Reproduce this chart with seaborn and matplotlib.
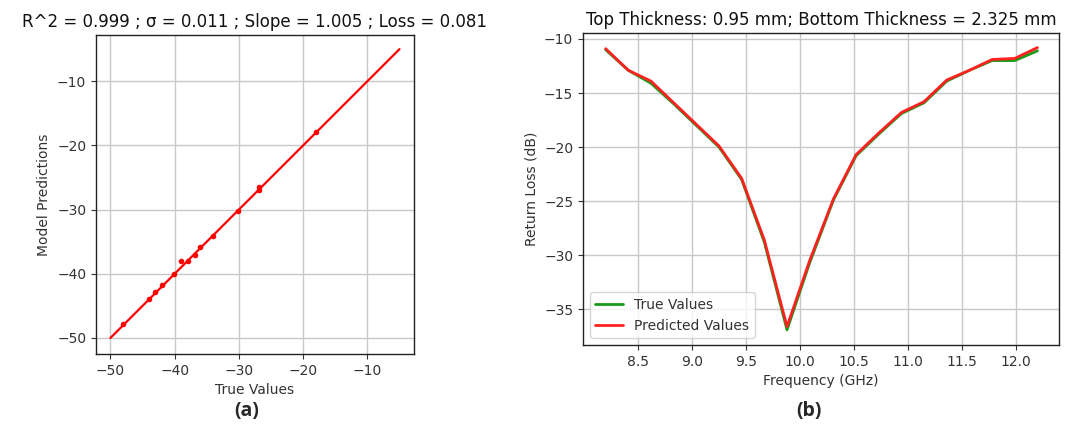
import matplotlib
matplotlib.use("Agg")
import matplotlib.pyplot as plt
import seaborn as sns
import pandas as pd

# ---- data: panel (a) ----
true_vals = [-48.0, -44.0, -43.0, -42.0, -40.1, -39.0, -38.0, -36.9, -36.0, -34.0, -30.1, -26.9, -26.9, -18.0]
pred_vals = [-47.9, -43.9, -42.8, -41.8, -40.0, -38.0, -38.0, -37.0, -35.9, -34.1, -30.2, -27.0, -26.5, -17.9]
ideal_x = [-50, -5]
ideal_y = [-50, -5]

# ---- data: panel (b) ----
freq = [8.2, 8.41, 8.62, 8.83, 9.04, 9.25, 9.46, 9.67, 9.88, 10.09,
        10.31, 10.52, 10.73, 10.94, 11.15, 11.36, 11.57, 11.78, 11.99, 12.2]
rl_true = [-11.0, -12.9, -14.1, -16.0, -18.0, -20.0, -23.0, -28.8, -36.9, -30.7,
           -24.9, -20.8, -18.8, -16.9, -15.9, -13.9, -12.9, -12.0, -12.0, -11.1]
rl_pred = [-10.9, -12.9, -13.9, -15.9, -17.9, -19.9, -22.9, -28.6, -36.6, -30.5,
           -24.8, -20.7, -18.7, -16.8, -15.8, -13.8, -12.9, -11.9, -11.8, -10.8]

title_a = "R^2 = 0.999 ; σ = 0.011 ; Slope = 1.005 ; Loss = 0.081"
title_b = "Top Thickness: 0.95 mm; Bottom Thickness = 2.325 mm"

sns.set_style("ticks")
plt.rcParams['font.family'] = ['DejaVu Sans']
txt = '#333333'
plt.rcParams.update({
    'xtick.color': txt, 'ytick.color': txt,
    'xtick.labelcolor': txt, 'ytick.labelcolor': txt,
    'axes.edgecolor': '#222222', 'axes.linewidth': 1.0,
    'xtick.labelsize': 10, 'ytick.labelsize': 10,
})

fig = plt.figure(figsize=(10.65, 4.29), dpi=100)
ax1 = fig.add_axes([0.0901, 0.1748, 0.2986, 0.7436])
ax2 = fig.add_axes([0.5474, 0.1958, 0.4470, 0.7273])

# panel (a)
sns.lineplot(x=ideal_x, y=ideal_y, ax=ax1, color='red', lw=1.6, zorder=3)
sns.scatterplot(x=true_vals, y=pred_vals, ax=ax1, color='red', s=16,
                edgecolor='red', linewidth=0, zorder=4)
ax1.set_xlim(-52.25, -2.75)
ax1.set_ylim(-52.5, -2.8)
ax1.set_xticks([-50, -40, -30, -20, -10])
ax1.set_yticks([-50, -40, -30, -20, -10])
ax1.grid(True, color='#c8c8c8', lw=1.0)
ax1.set_axisbelow(True)
ax1.set_xlabel("True Values", fontsize=10, color=txt)
ax1.set_ylabel("Model Predictions", fontsize=10, color=txt)
ax1.set_title(title_a, fontsize=12, color='#111111')

# panel (b)
df = pd.DataFrame({'freq': freq, 'true': rl_true, 'pred': rl_pred})
sns.lineplot(data=df, x='freq', y='true', ax=ax2, color='#1a9a1a', lw=2.0,
             label='True Values')
sns.lineplot(data=df, x='freq', y='pred', ax=ax2, color='#ff2020', lw=2.0,
             label='Predicted Values')
ax2.set_xticks([8.5, 9.0, 9.5, 10.0, 10.5, 11.0, 11.5, 12.0])
ax2.set_yticks([-35, -30, -25, -20, -15, -10])
ax2.set_ylim(-38.3, -9.45)
ax2.set_xlim(7.99, 12.4)
ax2.grid(True, color='#c8c8c8', lw=1.0)
ax2.set_axisbelow(True)
ax2.set_xlabel("Frequency (GHz)", fontsize=10, color=txt)
ax2.set_ylabel("Return Loss (dB)", fontsize=10, color=txt)
ax2.set_title(title_b, fontsize=12, color='#111111')
leg = ax2.legend(loc='lower left', fontsize=10, frameon=True)
for t in leg.get_texts():
    t.set_color(txt)

fig.text(0.232, 0.03, "(a)", fontsize=14, fontweight='bold', ha='center',
         family=['Open Sans', 'DejaVu Sans'])
fig.text(0.760, 0.03, "(b)", fontsize=14, fontweight='bold', ha='center',
         family=['Open Sans', 'DejaVu Sans'])

fig.savefig("out.png", dpi=100, facecolor='white')
